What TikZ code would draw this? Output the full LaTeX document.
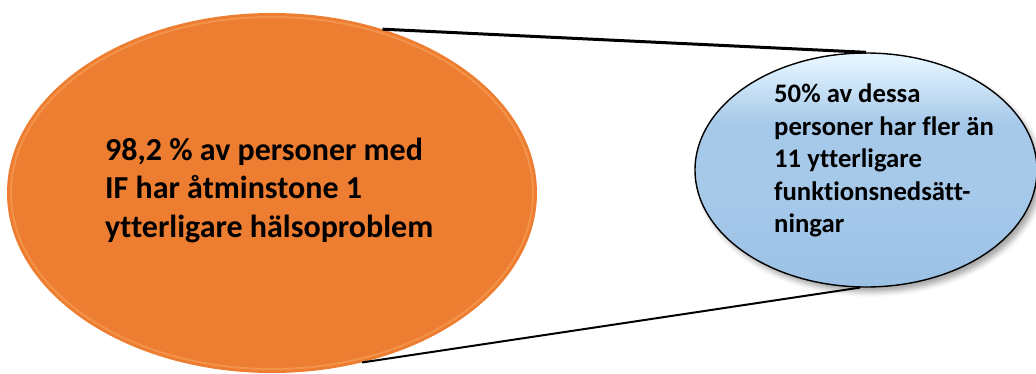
\documentclass[tikz,border=0pt]{standalone}
\usepackage{fontspec}
\setmainfont[Ligatures=NoCommon]{Carlito}
\usetikzlibrary{shapes.geometric,shadows.blur}
\definecolor{orangefill}{HTML}{ED7D31}
\definecolor{orangerim}{HTML}{F9A55E}
\definecolor{bluetop}{HTML}{E6F6FF}
\definecolor{bluemid}{HTML}{A6C9EA}
\definecolor{bluebot}{HTML}{9BC1E5}
\pgfdeclareverticalshading{bluesh}{100bp}{color(0bp)=(bluebot); color(25bp)=(bluebot); color(45bp)=(bluemid); color(60bp)=(bluemid); color(74bp)=(bluetop); color(100bp)=(bluetop)}
\begin{document}
\begin{tikzpicture}[x=1pt,y=-1pt,
  bigell/.style={ellipse, fill=orangefill, inner sep=0pt, minimum width=530pt, minimum height=360pt},
  rimell/.style={ellipse, draw=orangerim, draw opacity=0.55, line width=2pt, inner sep=0pt, minimum width=522pt, minimum height=352pt},
  smallell/.style={ellipse, draw=black, line width=1.4pt, shading=bluesh, inner sep=0pt, minimum width=342pt, minimum height=234pt,
    blur shadow={shadow xshift=4pt, shadow yshift=-5pt, shadow blur radius=5pt, shadow opacity=35}},
  connector/.style={draw=black},
  bigtxt/.style={anchor=base west, align=left, inner sep=0pt, font=\bfseries\fontsize{32}{38.5}\selectfont},
  smalltxt/.style={anchor=base west, align=left, inner sep=0pt, font=\bfseries\fontsize{26.7}{32.5}\selectfont}
]
\useasboundingbox (0,0) rectangle (1036,374);
\node[bigell] (big) at (272,193) {};
\node[rimell] (rim) at (272,193) {};
\node[smallell] (small) at (866,170) {};
\draw[connector, line width=3pt] (big.56) -- (small.north);
\draw[connector, line width=2pt] (big.-62) -- (small.267);
\node[bigtxt] (bigtext) at (105,237) {98,2 \% av personer med\\IF har åtminstone 1\\ytterligare hälsoproblem};
\node[smalltxt] (smalltext) at (774,233) {50\% av dessa\\personer har fler än\\11 ytterligare\\funktionsnedsätt-\\ningar};
\end{tikzpicture}
\end{document}
